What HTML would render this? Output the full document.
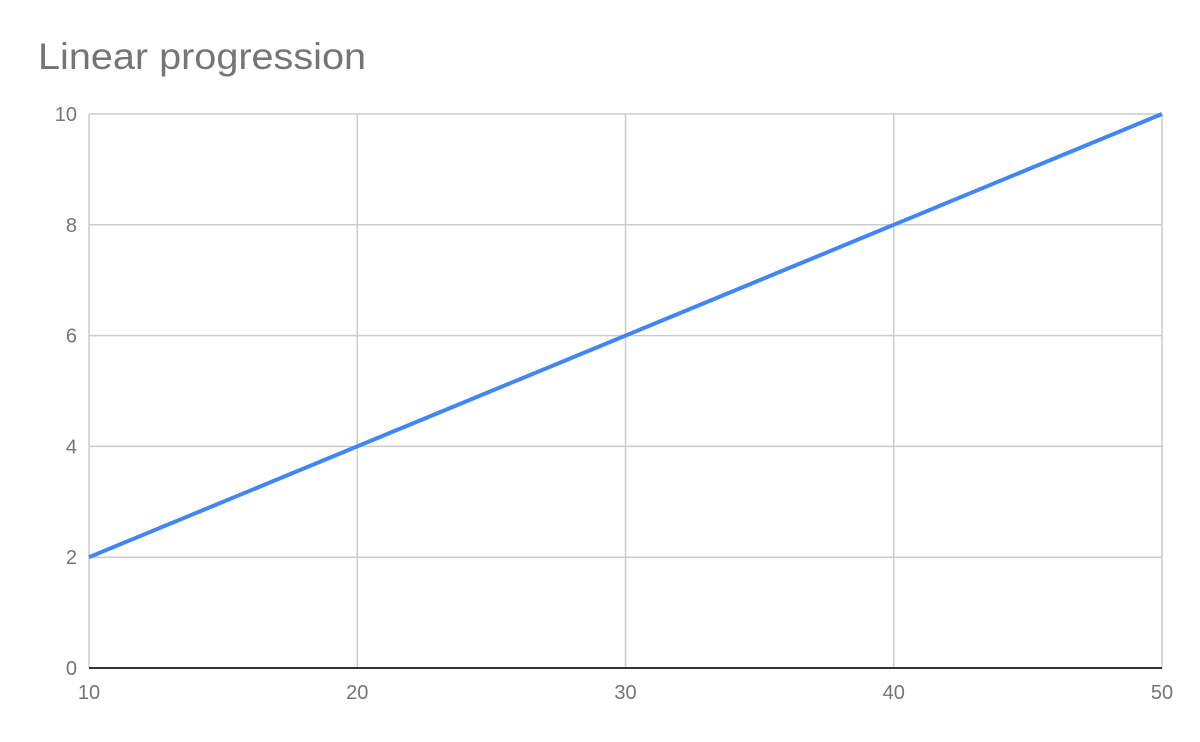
<!DOCTYPE html>
<html><head><meta charset="utf-8"><style>
body{margin:0;background:#fff;}
svg{display:block;font-family:"Liberation Sans",sans-serif;}
</style></head><body>
<svg id="chart" width="1200" height="742" viewBox="0 0 1200 742">
<rect width="1200" height="742" fill="#fff"/>
<text x="38" y="69" font-size="37" fill="#757575" textLength="328" lengthAdjust="spacingAndGlyphs">Linear progression</text>
<g id="grid"></g><g id="axes"></g><g id="series"></g>
</svg>
<script>
const xValues=[10,20,30,40,50];
const yValues=[2,4,6,8,10];
const xTicks=[10,20,30,40,50];
const yTicks=[0,2,4,6,8,10];
const L=89,R=1162,T=114,B=668;
const xs=v=>L+(v-10)/(50-10)*(R-L);
const ys=v=>B-(v-0)/(10-0)*(B-T);
const NS='http://www.w3.org/2000/svg';
function mk(tag,attrs,parent){const e=document.createElementNS(NS,tag);for(const k in attrs)e.setAttribute(k,attrs[k]);document.getElementById(parent).appendChild(e);return e;}
yTicks.forEach(t=>{
  if(t!==0){const g=mk('line',{x1:L,x2:R,y1:ys(t),y2:ys(t),stroke:'#cccccc','stroke-width':1.5},'grid');
  
  }
  const l=mk('text',{x:77,y:ys(t)+7,'text-anchor':'end','font-size':20,fill:'#757575'},'axes');
  l.textContent=t;
  
  
});
xTicks.forEach(t=>{
  const g=mk('line',{x1:xs(t),x2:xs(t),y1:T,y2:B,stroke:'#cccccc','stroke-width':1.5},'grid');
  
  
  const l=mk('text',{x:xs(t),y:699,'text-anchor':'middle','font-size':20,fill:'#757575'},'axes');
  l.textContent=t;
  
  
});
const base=mk('line',{x1:L,x2:R,y1:B,y2:B,stroke:'#333333','stroke-width':2},'axes');


const pts=xValues.map((x,i)=>xs(x)+','+ys(yValues[i])).join(' ');
const pl=mk('polyline',{points:pts,fill:'none',stroke:'#4285f4','stroke-width':4,'stroke-linejoin':'round'},'series');


</script>
</body></html>
